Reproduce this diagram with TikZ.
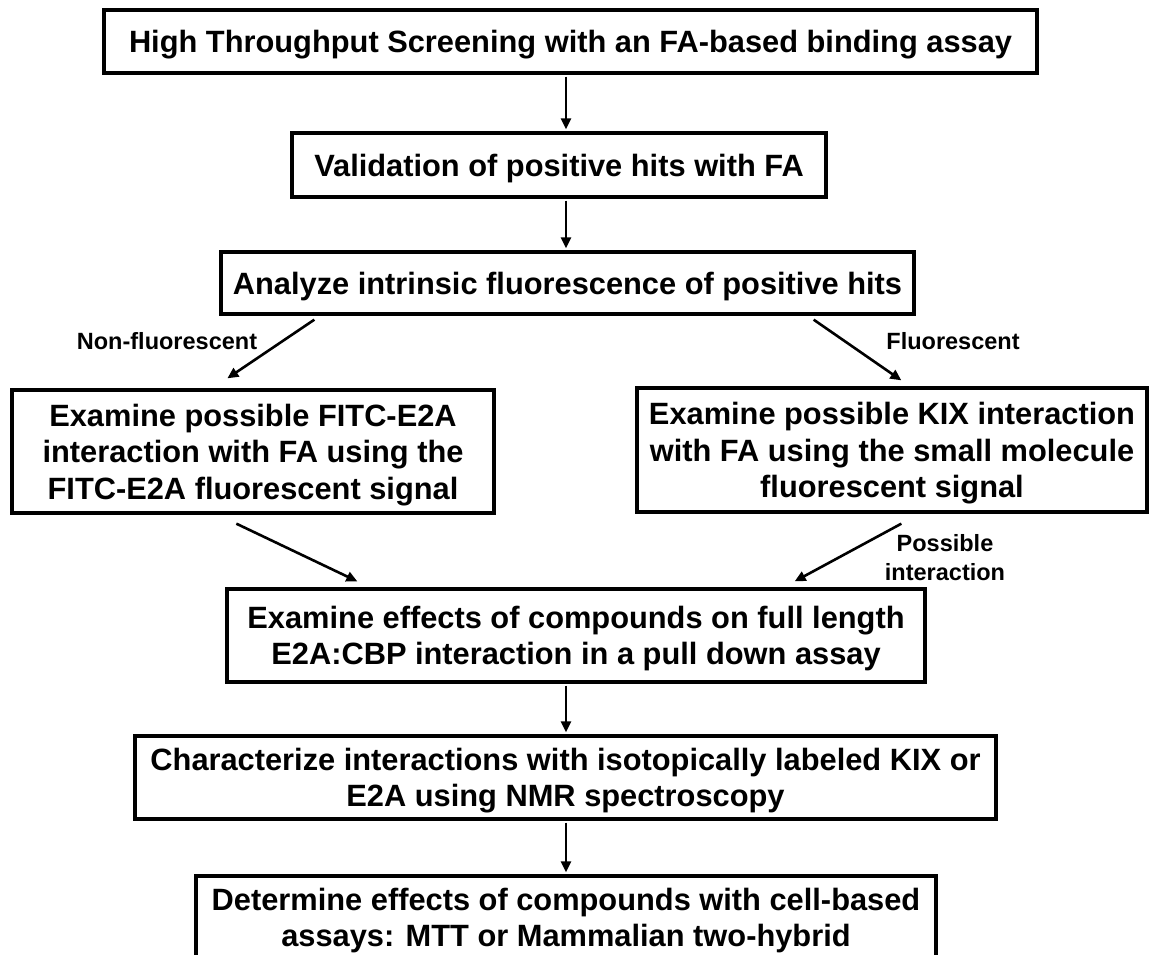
\documentclass[tikz,border=0pt]{standalone}
\usepackage{fontspec}
\setmainfont{Liberation Sans}
\usetikzlibrary{arrows.meta}

\begin{document}
\begin{tikzpicture}[x=0.5pt,y=-0.5pt,
          every node/.style={font=\bfseries\fontsize{15.4}{18.25}\selectfont},
          stepbox/.style={draw,line width=1.65pt,inner sep=0pt,align=center,text depth=0pt},
          lbl/.style={font=\bfseries\fontsize{11.75}{14.5}\selectfont,align=center,inner sep=0pt},
          arr/.style={line width=1.3pt,-{Triangle[length=5.5pt,width=5pt]}},
          vert/.style={arr,shorten <=1pt,shorten >=1pt},
        ]
        \clip (0,0) rectangle (1149,954);
        \coordinate (spine) at (566,0);
        \node[stepbox,minimum width=466.5pt,minimum height=31.5pt] (hts)   at (570.5,41.5) {High Throughput Screening with an FA-based binding assay};
        \node[stepbox,minimum width=267pt,minimum height=32pt]     (valid) at (559,165)    {Validation of positive hits with FA};
        \node[stepbox,minimum width=346.5pt,minimum height=31pt]   (intr)  at (567.5,283)  {Analyze intrinsic fluorescence of positive hits};
        \node[stepbox,minimum width=241pt,minimum height=61.5pt]   (fitc)  at (253,451.5)  {Examine possible FITC-E2A\\interaction with FA using the\\FITC-E2A fluorescent signal};
        \node[stepbox,minimum width=255pt,minimum height=62pt]     (kix)   at (892,450)    {Examine possible KIX interaction\\with FA using the small molecule\\fluorescent signal};
        \node[stepbox,minimum width=349pt,minimum height=46.5pt]   (pull)  at (576,635.5)  {Examine effects of compounds on full length\\E2A:CBP interaction in a pull down assay};
        \node[stepbox,minimum width=430.5pt,minimum height=41.5pt] (nmr)   at (565.5,777.5) {Characterize interactions with isotopically labeled KIX or\\E2A using NMR spectroscopy};
        \node[stepbox,minimum width=370pt,minimum height=41.5pt]   (cell)  at (566,917.5)  {Determine effects of compounds with cell-based\\assays: MTT or Mammalian two-hybrid};
        \node[lbl] (nonfl) at (167,341)   {Non-fluorescent};
        \node[lbl] (fl)    at (953,341)   {Fluorescent};
        \node[lbl] (poss)  at (945,557.5) {Possible\\interaction};
        \draw[vert] (hts.south -| spine)   -- (valid.north -| spine);
        \draw[vert] (valid.south -| spine) -- (intr.north -| spine);
        \draw[arr] ([shift={(95,4)}]intr.south west)   -- ([shift={(217,-10)}]fitc.north west);
        \draw[arr] ([shift={(-102,4)}]intr.south east) -- ([shift={(266,-6)}]kix.north west);
        \draw[arr] ([shift={(226,9)}]fitc.south west)  -- ([shift={(132,-6)}]pull.north west);
        \draw[arr] ([shift={(266,10)}]kix.south west)  -- ([shift={(-132,-6)}]pull.north east);
        \draw[vert] (pull.south -| spine)  -- (nmr.north -| spine);
        \draw[vert] (nmr.south -| spine)   -- (cell.north -| spine);
      \end{tikzpicture}
\end{document}
